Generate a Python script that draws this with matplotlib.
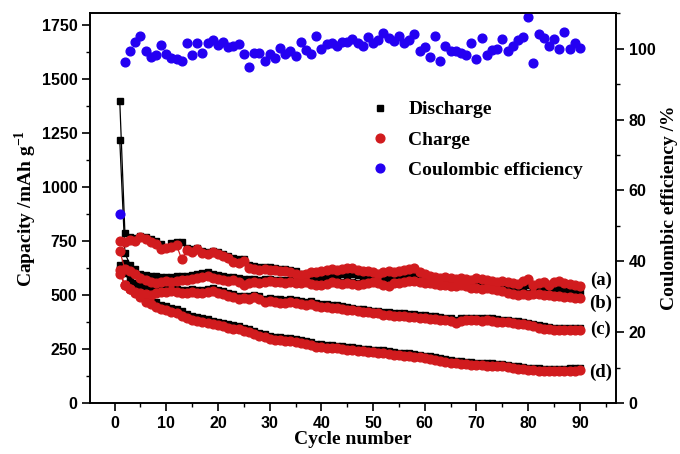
import matplotlib
matplotlib.use("Agg")
import matplotlib.pyplot as plt
import numpy as np
from matplotlib.ticker import MultipleLocator

# cycle numbers
cycles = np.arange(1, 91)

# capacities (mAh/g)
charge_a = [750, 745, 755, 750, 770, 760, 745, 735, 715, 720, 725, 730, 665, 710, 700, 715, 695, 690, 700, 690,
            680, 670, 655, 650, 660, 625, 620, 615, 620, 615, 615, 610, 610, 605, 600, 595, 600, 605, 605, 610,
            615, 620, 615, 620, 625, 625, 615, 610, 610, 605, 600, 605, 610, 605, 610, 615, 620, 625, 605, 600,
            590, 585, 580, 585, 580, 575, 580, 575, 570, 580, 575, 570, 565, 560, 565, 560, 555, 550, 565, 575,
            545, 555, 560, 545, 560, 565, 555, 550, 545, 540]
discharge_a = [1400, 787, 770, 765, 775, 770, 760, 750, 735, 720, 740, 745, 748, 720, 715, 720, 705, 700, 705, 700,
               690, 680, 670, 665, 665, 640, 635, 630, 632, 628, 625, 622, 620, 615, 610, 600, 595, 590, 588, 585,
               585, 590, 595, 598, 600, 598, 592, 588, 585, 584, 586, 588, 586, 584, 586, 588, 590, 592, 582, 578,
               574, 572, 570, 568, 566, 564, 562, 560, 558, 556, 554, 552, 550, 548, 546, 544, 542, 540, 545, 548,
               538, 536, 540, 534, 536, 535, 530, 528, 525, 522]

charge_b = [705, 620, 610, 600, 580, 570, 560, 555, 560, 565, 560, 565, 570, 570, 575, 580, 585, 590, 580, 575,
            570, 565, 570, 560, 545, 555, 560, 555, 560, 565, 560, 560, 555, 560, 555, 555, 560, 550, 545, 545,
            550, 560, 555, 550, 555, 550, 545, 550, 555, 560, 555, 545, 540, 555, 555, 560, 565, 565, 560, 555,
            555, 550, 545, 545, 540, 540, 545, 540, 535, 535, 530, 535, 530, 525, 520, 510, 505, 500, 505, 500,
            505, 505, 500, 500, 495, 495, 490, 490, 485, 485]
discharge_b = [1220, 694, 640, 620, 600, 595, 590, 590, 585, 585, 585, 588, 590, 590, 595, 600, 602, 605, 600, 595,
               590, 585, 585, 580, 575, 575, 575, 572, 575, 575, 572, 570, 570, 570, 568, 566, 568, 562, 558, 558,
               562, 570, 566, 562, 565, 562, 558, 560, 565, 570, 566, 558, 554, 565, 566, 570, 575, 576, 570, 566,
               565, 560, 556, 555, 552, 550, 554, 550, 546, 545, 542, 544, 540, 535, 530, 522, 516, 512, 515, 512,
               514, 514, 510, 510, 506, 505, 500, 500, 496, 495]

charge_c = [615, 545, 530, 515, 510, 505, 500, 510, 515, 515, 520, 515, 510, 510, 515, 510, 510, 515, 520, 510,
            505, 495, 490, 480, 485, 480, 490, 480, 470, 475, 470, 465, 465, 470, 465, 460, 455, 460, 450, 445,
            445, 440, 440, 435, 430, 430, 425, 420, 420, 415, 415, 410, 410, 405, 405, 405, 400, 400, 395, 395,
            390, 390, 385, 385, 380, 370, 380, 385, 385, 385, 380, 385, 380, 375, 375, 375, 370, 365, 365, 360,
            355, 350, 345, 345, 340, 340, 340, 340, 338, 338]
discharge_c = [640, 648, 578, 555, 545, 535, 530, 530, 532, 530, 532, 530, 526, 525, 528, 526, 526, 530, 534, 526,
               520, 512, 505, 496, 498, 494, 502, 494, 484, 488, 484, 480, 478, 482, 478, 474, 468, 472, 464, 458,
               458, 454, 452, 448, 444, 442, 438, 434, 432, 428, 426, 422, 422, 418, 416, 416, 412, 412, 408, 406,
               402, 402, 398, 396, 392, 386, 392, 396, 396, 396, 392, 396, 392, 388, 386, 386, 382, 378, 376, 372,
               366, 362, 356, 354, 350, 350, 348, 348, 346, 346]

charge_d = [600, 545, 530, 510, 490, 470, 460, 445, 435, 430, 420, 415, 405, 395, 385, 380, 375, 370, 365, 360,
            355, 350, 345, 342, 335, 328, 320, 312, 305, 298, 292, 290, 288, 286, 282, 280, 275, 268, 262, 258,
            256, 255, 253, 250, 248, 245, 242, 240, 238, 236, 234, 232, 228, 225, 222, 220, 218, 215, 212, 208,
            204, 200, 196, 192, 188, 185, 182, 180, 178, 176, 175, 174, 173, 172, 170, 167, 164, 160, 157, 154,
            152, 151, 150, 150, 150, 150, 150, 150, 151, 152]
discharge_d = [620, 602, 560, 540, 520, 500, 485, 468, 455, 450, 440, 435, 425, 414, 404, 398, 392, 388, 382, 376,
               370, 366, 360, 356, 350, 342, 334, 326, 318, 312, 306, 304, 302, 300, 296, 294, 288, 282, 276, 272,
               270, 268, 266, 263, 260, 258, 255, 252, 250, 248, 246, 244, 240, 237, 234, 232, 230, 227, 224, 220,
               216, 212, 208, 204, 200, 196, 193, 191, 189, 187, 186, 185, 184, 182, 180, 177, 174, 170, 167, 164,
               162, 161, 160, 160, 160, 160, 160, 161, 162, 165]

# coulombic efficiency (%)
ce = [53.4, 96.3, 99.4, 101.8, 103.7, 99.2, 97.7, 98.3, 100.9, 98.5, 97.4, 97.0, 96.6, 101.6, 98.3, 101.5, 98.7,
      101.7, 102.4, 101.0, 101.9, 100.4, 100.8, 101.3, 98.5, 94.9, 98.8, 98.9, 96.6, 98.5, 97.4, 100.1, 98.5, 99.4,
      98.0, 101.9, 99.6, 98.5, 103.5, 99.9, 101.3, 101.5, 100.8, 101.8, 102.0, 102.7, 101.5, 100.8, 103.2, 101.5,
      102.4, 104.3, 103.0, 102.1, 103.7, 101.7, 102.4, 104.1, 99.2, 100.4, 97.7, 103.7, 96.6, 100.6, 99.4, 99.2,
      98.9, 98.3, 101.5, 97.0, 103.0, 98.3, 99.6, 99.9, 102.8, 99.4, 100.8, 102.4, 103.4, 109.0, 95.9, 104.2,
      103.0, 100.8, 102.7, 99.9, 104.6, 99.9, 101.5, 100.1]

curve_labels = ["(a)", "(b)", "(c)", "(d)"]
label_y = [568, 464, 341, 142]

red = "#d11b1e"
blue = "#2400f2"
tick_font = "Liberation Sans"
label_font = "Liberation Serif"
plt.rcParams["mathtext.fontset"] = "custom"
plt.rcParams["mathtext.bf"] = "Liberation Serif:bold"
plt.rcParams["mathtext.rm"] = "Liberation Serif:bold"

fig = plt.figure(figsize=(6.8, 4.54), dpi=100)
ax = fig.add_axes([0.132, 0.112, 0.774, 0.859])
ax2 = ax.twinx()

discharges = [discharge_a, discharge_b, discharge_c, discharge_d]
charges = [charge_a, charge_b, charge_c, charge_d]
for i, d in enumerate(discharges):
    ax.plot(cycles, d, color="black", lw=0.9, marker="s", ms=4.5, zorder=2,
            label="Discharge" if i == 0 else None)
for i, c in enumerate(charges):
    ax.plot(cycles, c, color=red, lw=0.9, marker="o", ms=6.3, mec=red, zorder=3,
            label="Charge" if i == 0 else None)

ax2.plot(cycles, ce, ls="none", marker="o", ms=6.3, color=blue, label="Coulombic efficiency")

for lab, yv in zip(curve_labels, label_y):
    ax.text(94, yv, lab, ha="center", va="center", fontsize=13.5,
            fontweight="bold", family=label_font)

ax.set_xlim(-4.8, 97)
ax.set_ylim(0, 1805)
ax2.set_ylim(0, 110)
ax.xaxis.set_major_locator(MultipleLocator(10))
ax.xaxis.set_minor_locator(MultipleLocator(5))
ax.yaxis.set_major_locator(MultipleLocator(250))
ax.yaxis.set_minor_locator(MultipleLocator(125))
ax2.yaxis.set_major_locator(MultipleLocator(20))
ax2.yaxis.set_minor_locator(MultipleLocator(10))

for a in (ax, ax2):
    a.tick_params(which="major", direction="out", length=5.5, width=1.2, labelsize=11.5)
    a.tick_params(which="minor", direction="out", length=3, width=1.0)
    for s in a.spines.values():
        s.set_linewidth(1.2)
    for t in a.get_xticklabels() + a.get_yticklabels():
        t.set_fontweight("bold")
        t.set_family(tick_font)

ax.set_xlabel("Cycle number", fontsize=14, fontweight="bold", family=label_font, labelpad=0)
ax.set_ylabel(r"Capacity /mAh g$^{\mathbf{-1}}$", fontsize=14, fontweight="bold",
              family=label_font, labelpad=2)
ax2.set_ylabel("Coulombic efficiency /%", fontsize=14, fontweight="bold",
               family=label_font, labelpad=4)

h1, l1 = ax.get_legend_handles_labels()
h2, l2 = ax2.get_legend_handles_labels()
leg = ax2.legend(h1 + h2, l1 + l2, loc="upper left", bbox_to_anchor=(0.5, 0.82),
                 frameon=False, handlelength=1.0, handletextpad=0.95, labelspacing=0.65,
                 prop={"family": label_font, "weight": "bold", "size": 14})
for h in leg.legend_handles:
    h.set_linestyle("none")

fig.savefig("out.png", dpi=100)
